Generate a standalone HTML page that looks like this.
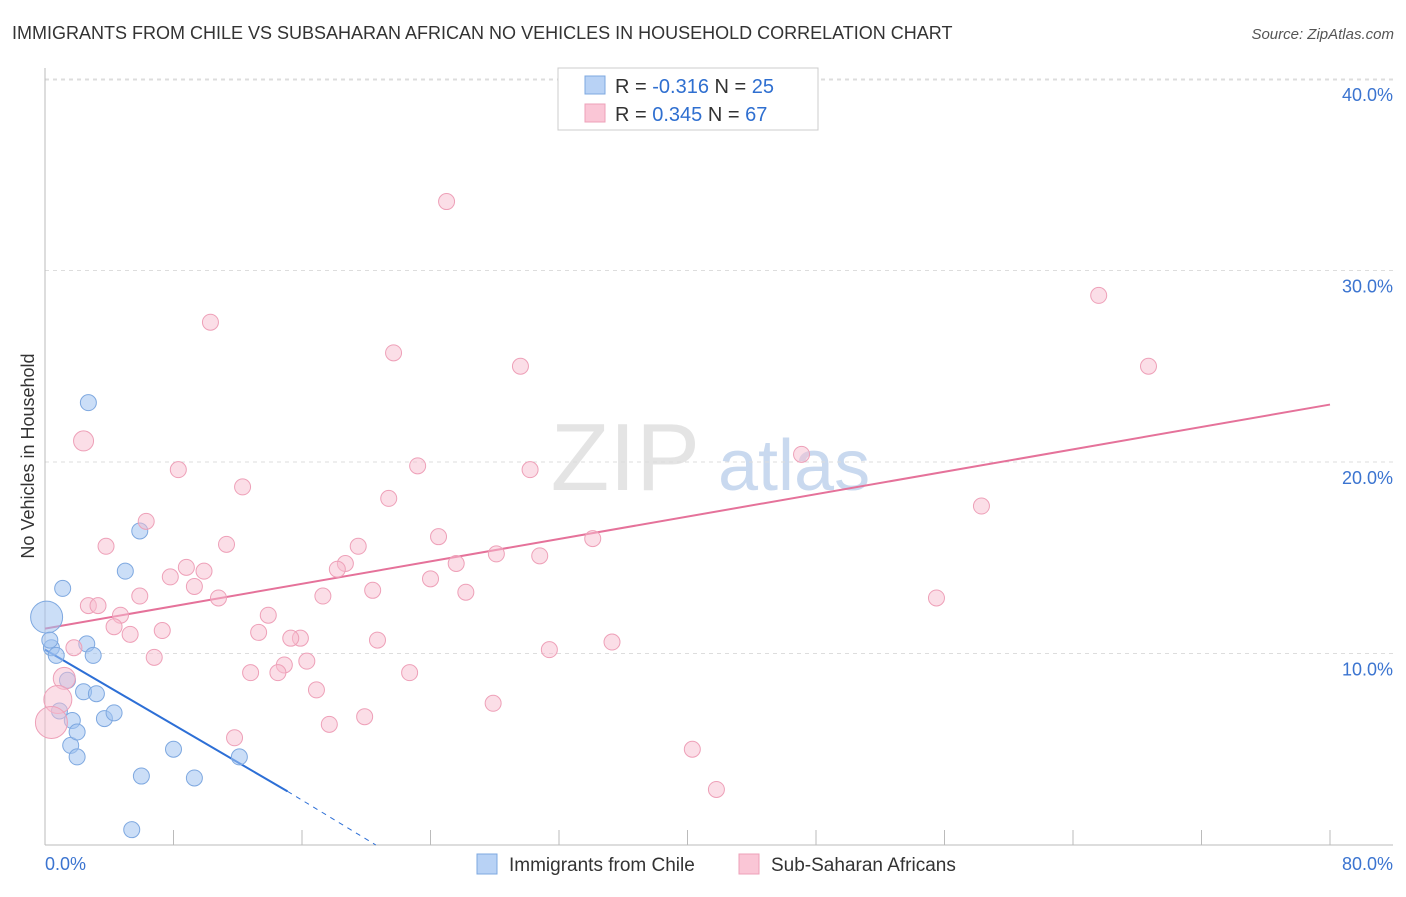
<!DOCTYPE html>
<html><head><meta charset="utf-8"><style>
body{margin:0;background:#fff;font-family:"Liberation Sans",sans-serif}
svg text{font-family:"Liberation Sans",sans-serif}
</style></head><body>
<svg id="chart" width="1406" height="892" viewBox="0 0 1406 892">
<text x="12" y="39" font-size="18" fill="#333">IMMIGRANTS FROM CHILE VS SUBSAHARAN AFRICAN NO VEHICLES IN HOUSEHOLD CORRELATION CHART</text>
<text x="1394" y="39" font-size="15" fill="#555" font-style="italic" text-anchor="end">Source: ZipAtlas.com</text>
<text x="700" y="490" font-size="96" fill="#e4e4e4" text-anchor="end" font-family="Liberation Serif">ZIP</text>
<text x="718" y="490" font-size="72" fill="#c9d9ef">atlas</text>
<g id="grid"></g>
<g id="axes"></g>
<g id="lines"></g>
<g id="points"></g>
<text transform="translate(34,456) rotate(-90)" font-size="18" fill="#333" text-anchor="middle">No Vehicles in Household</text>
<g>
<rect x="558" y="68" width="260" height="62" fill="#fff" stroke="#ccc"/>
<rect x="585" y="76" width="20" height="18" fill="#b8d2f5" stroke="#7ea8e0"/>
<rect x="585" y="104" width="20" height="18" fill="#fac6d6" stroke="#eea0b8"/>
<text x="615" y="93" font-size="20" fill="#333">R = <tspan fill="#2f6fd0">-0.316</tspan>   N = <tspan fill="#2f6fd0">25</tspan></text>
<text x="615" y="121" font-size="20" fill="#333">R =  <tspan fill="#2f6fd0">0.345</tspan>   N = <tspan fill="#2f6fd0">67</tspan></text>
</g>
<g>
<rect x="477" y="854" width="20" height="20" fill="#b8d2f5" stroke="#7ea8e0"/>
<text x="509" y="871" font-size="19" fill="#333">Immigrants from Chile</text>
<rect x="739" y="854" width="20" height="20" fill="#fac6d6" stroke="#eea0b8"/>
<text x="771" y="871" font-size="19" fill="#333">Sub-Saharan Africans</text>
</g>
</svg>
<script>
const yTicks=[10,20,30,40];
const yTickLabels=["10.0%","20.0%","30.0%","40.0%"];
const xTicks=[0,8,16,24,32,40,48,56,64,72,80];
const chileX=[0.1,0.4,0.7,1.1,2.7,2.6,3.0,1.4,2.4,3.2,0.9,1.7,3.7,4.3,1.6,2.0,2.0,5.9,5.0,8.0,6.0,9.3,12.1,5.4,0.3];
const chileY=[11.9,10.3,9.9,13.4,23.1,10.5,9.9,8.6,8.0,7.9,7.0,6.5,6.6,6.9,5.2,5.9,4.6,16.4,14.3,5.0,3.6,3.5,4.6,0.8,10.7];
const chileR=[16,8,8,8,8,8,8,8,8,8,8,8,8,8,8,8,8,8,8,8,8,8,8,8,8];
const afrX=[40.6,25.0,65.6,10.3,21.7,29.6,68.7,2.4,8.3,23.2,30.2,47.1,12.3,21.4,58.3,6.3,3.8,11.3,24.5,34.1,19.5,28.1,30.8,18.7,25.6,8.8,9.9,7.8,18.2,24.0,9.3,20.4,26.2,5.9,10.8,17.3,55.5,2.7,3.3,4.7,13.9,4.3,7.3,5.3,13.3,15.9,15.3,20.7,35.3,31.4,1.8,6.8,16.3,14.9,12.8,14.5,22.7,1.2,16.9,27.9,0.8,0.4,17.7,19.9,11.8,40.3,41.8];
const afrY=[37.8,33.6,28.7,27.3,25.7,25.0,25.0,21.1,19.6,19.8,19.6,20.4,18.7,18.1,17.7,16.9,15.6,15.7,16.1,16.0,15.6,15.2,15.1,14.7,14.7,14.5,14.3,14.0,14.4,13.9,13.5,13.3,13.2,13.0,12.9,13.0,12.9,12.5,12.5,12.0,12.0,11.4,11.2,11.0,11.1,10.8,10.8,10.7,10.6,10.2,10.3,9.8,9.6,9.4,9.0,9.0,9.0,8.7,8.1,7.4,7.6,6.4,6.3,6.7,5.6,5.0,2.9];
const chileTrend=[[0,10.2],[15.1,2.8],[20.6,0]];
const afrTrend=[[0,11.3],[80,23.0]];
const X=v=>45+v*(1330-45)/80;
const Y=v=>845-v*19.15;
const NS="http://www.w3.org/2000/svg";
function mk(tag,parent,attrs){const e=document.createElementNS(NS,tag);for(const k in attrs)e.setAttribute(k,attrs[k]);document.getElementById(parent).appendChild(e);return e;}
yTicks.forEach((t,i)=>{
 const l=mk('line','grid',{x1:45,x2:1393,y1:Y(t),y2:Y(t),stroke:'#ddd','stroke-dasharray':'4,4'});
 
 
 const tx=mk('text','grid',{x:1393,y:Y(t)+22,'font-size':18,fill:'#3b74d0','text-anchor':'end'});
 tx.textContent=yTickLabels[i];
 
 
});
const tl=mk('line','grid',{x1:45,x2:1393,y1:80,y2:80,stroke:'#ddd','stroke-dasharray':'4,4'});


const ya=mk('line','axes',{x1:45,x2:45,y1:68,y2:845,stroke:'#bbb'});


const xa=mk('line','axes',{x1:45,x2:1393,y1:845,y2:845,stroke:'#bbb'});


xTicks.forEach(t=>{
 const l=mk('line','axes',{x1:X(t),x2:X(t),y1:830,y2:845,stroke:'#bbb'});
 
 
});
const x0=mk('text','axes',{x:45,y:870,'font-size':18,fill:'#3b74d0'});x0.textContent='0.0%';


const x1=mk('text','axes',{x:1393,y:870,'font-size':18,fill:'#3b74d0','text-anchor':'end'});x1.textContent='80.0%';


for(let i=0;i<chileX.length;i++){
 const c=mk('circle','points',{cx:X(chileX[i]),cy:Y(chileY[i]),r:chileR[i],fill:'rgba(160,195,240,0.55)',stroke:'#7ea8e0','stroke-width':1});
 
 
}
for(let i=0;i<afrX.length;i++){
 let r=8; if(i===7)r=10; if(i===57)r=11; if(i===60)r=14; if(i===61)r=16;
 const c=mk('circle','points',{cx:X(afrX[i]),cy:Y(afrY[i]),r:r,fill:'rgba(248,190,208,0.5)',stroke:'#eea0b8','stroke-width':1});
 
 
}
const b1=mk('line','lines',{x1:X(chileTrend[0][0]),y1:Y(chileTrend[0][1]),x2:X(chileTrend[1][0]),y2:Y(chileTrend[1][1]),stroke:'#2d6fd6','stroke-width':2});


const b2=mk('line','lines',{x1:X(chileTrend[1][0]),y1:Y(chileTrend[1][1]),x2:X(chileTrend[2][0]),y2:Y(chileTrend[2][1]),stroke:'#2d6fd6','stroke-width':1,'stroke-dasharray':'5,5'});


const p1=mk('line','lines',{x1:X(afrTrend[0][0]),y1:Y(afrTrend[0][1]),x2:X(afrTrend[1][0]),y2:Y(afrTrend[1][1]),stroke:'#e5729a','stroke-width':2});


</script>
</body></html>
